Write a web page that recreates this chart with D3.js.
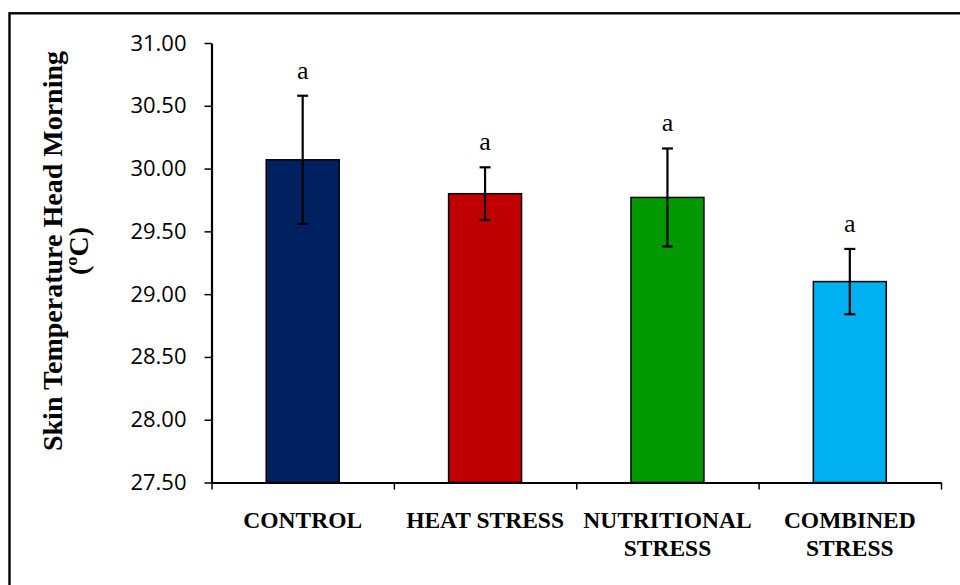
<!DOCTYPE html>
<html>
<head>
<meta charset="utf-8">
<script src="https://cdn.jsdelivr.net/npm/d3@7/dist/d3.min.js"></script>
<style>
  html, body { margin: 0; padding: 0; background: #fff; }
  svg { display: block; }
</style>
</head>
<body>
<svg id="chart" width="960" height="585"></svg>
<script>
// Skin temperature of the head (morning) per treatment group, mean ± error
const categories = ["CONTROL", "HEAT STRESS", "NUTRITIONAL STRESS", "COMBINED STRESS"];
const labelLines = [["CONTROL"], ["HEAT STRESS"], ["NUTRITIONAL", "STRESS"], ["COMBINED", "STRESS"]];
const means = [30.07, 29.80, 29.77, 29.10];
const errors = [0.51, 0.21, 0.39, 0.26];
const letters = ["a", "a", "a", "a"];
const barColors = ["#002060", "#C00000", "#009900", "#00B0F0"];
const yTicks = [27.5, 28.0, 28.5, 29.0, 29.5, 30.0, 30.5, 31.0];
const yTitle = ["Skin Temperature Head Morning", "(ºC)"];

const svg = d3.select("#chart");

// outer chart frame
svg.append("rect")
  .attr("x", 9.5).attr("y", 13.3)
  .attr("width", 1000).attr("height", 700)
  .attr("fill", "none").attr("stroke", "#000").attr("stroke-width", 2.4);

const plot = { left: 211.5, right: 941, top: 43, bottom: 482.5 };

const y = d3.scaleLinear().domain([27.5, 31]).range([plot.bottom, plot.top]);
const x = d3.scaleBand().domain(categories)
  .range([plot.left, plot.right])
  .paddingInner(0.6).paddingOuter(0.3);
const boundary = d3.scaleLinear().domain([0, categories.length]).range([plot.left, plot.right]);

// bars
svg.append("g").selectAll("rect")
  .data(categories)
  .join("rect")
  .attr("x", d => x(d))
  .attr("width", x.bandwidth())
  .attr("y", (d, i) => y(means[i]))
  .attr("height", (d, i) => y(27.5) - y(means[i]))
  .attr("fill", (d, i) => barColors[i])
  .attr("stroke", "#000")
  .attr("stroke-width", 1.5);

// error bars
const eb = svg.append("g").attr("stroke", "#000").attr("stroke-width", 2.2);
categories.forEach((c, i) => {
  const cx = x(c) + x.bandwidth() / 2;
  const hi = y(means[i] + errors[i]);
  const lo = y(means[i] - errors[i]);
  eb.append("line").attr("x1", cx).attr("x2", cx).attr("y1", hi).attr("y2", lo);
  eb.append("line").attr("x1", cx - 5.5).attr("x2", cx + 5.5).attr("y1", hi).attr("y2", hi);
  eb.append("line").attr("x1", cx - 5.5).attr("x2", cx + 5.5).attr("y1", lo).attr("y2", lo);
});

// significance letters
svg.append("g").selectAll("text")
  .data(categories)
  .join("text")
  .attr("x", d => x(d) + x.bandwidth() / 2)
  .attr("y", (d, i) => y(means[i] + errors[i]) - 17)
  .attr("text-anchor", "middle")
  .attr("font-family", "'Liberation Serif', 'Times New Roman', serif")
  .attr("font-size", 26)
  .text((d, i) => letters[i]);

// y axis
const yAxis = svg.append("g")
  .attr("transform", `translate(${plot.left},0)`)
  .call(d3.axisLeft(y).tickValues(yTicks).tickFormat(d3.format(".2f")).tickSize(7).tickPadding(18).tickSizeOuter(0));
yAxis.select(".domain").attr("stroke-width", 2.2);
yAxis.selectAll(".tick line").attr("stroke-width", 1.5);
yAxis.selectAll(".tick text")
  .attr("font-family", "'Open Sans', 'Liberation Sans', sans-serif")
  .attr("font-size", 22)
  .attr("fill", "#000");

// x axis with ticks between categories
const xAxis = svg.append("g")
  .attr("transform", `translate(0,${plot.bottom})`)
  .call(d3.axisBottom(boundary).tickValues(d3.range(categories.length + 1)).tickFormat("").tickSize(7).tickSizeOuter(0));
xAxis.select(".domain").attr("stroke-width", 2.2);
xAxis.selectAll(".tick line").attr("stroke-width", 1.5);

// category labels
const cat = svg.append("g")
  .attr("font-family", "'Liberation Serif', 'Times New Roman', serif")
  .attr("font-weight", "bold")
  .attr("font-size", 23.5)
  .attr("text-anchor", "middle");
categories.forEach((c, i) => {
  const t = cat.append("text")
    .attr("x", x(c) + x.bandwidth() / 2)
    .attr("y", 528);
  labelLines[i].forEach((line, j) => {
    t.append("tspan").attr("x", x(c) + x.bandwidth() / 2).attr("dy", j === 0 ? 0 : 28).text(line);
  });
});

// y axis title (two lines, rotated)
const yMid = 251;
const title = svg.append("text")
  .attr("transform", `translate(62,${yMid}) rotate(-90)`)
  .attr("text-anchor", "middle")
  .attr("font-family", "'Liberation Serif', 'Times New Roman', serif")
  .attr("font-weight", "bold")
  .attr("font-size", 28);
yTitle.forEach((line, j) => {
  title.append("tspan").attr("x", 0).attr("dy", j === 0 ? 0 : 26).text(line);
});
</script>
</body>
</html>
